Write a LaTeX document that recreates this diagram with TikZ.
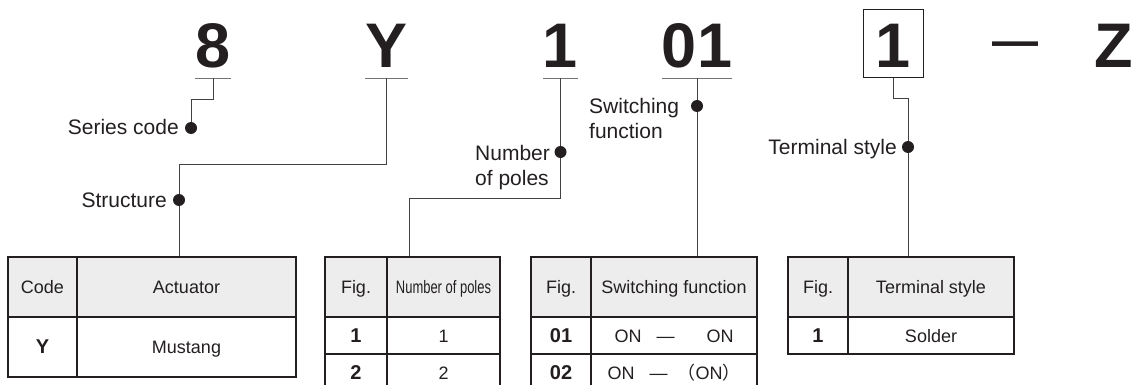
\documentclass[tikz,border=0pt]{standalone}
\usepackage{fontspec}
\setmainfont{Liberation Sans}
\newfontfamily\cjk{Noto Sans CJK JP}
\newfontfamily\narrowfont[FakeStretch=0.72]{Liberation Sans}
\definecolor{ink}{HTML}{231F20}
\definecolor{headgray}{HTML}{EDEDED}

\tikzset{
  code/.style={font=\bfseries\fontsize{63}{63}\selectfont, anchor=base, inner xsep=0pt, inner ysep=10pt, text height=48pt, text depth=0pt},
  uline/.style={draw=black!55, line width=1.2pt},
  lead/.style={draw=ink!85, line width=1pt},
  lbl/.style={font=\fontsize{21}{25}\selectfont, inner sep=0pt},
  cell/.style={draw=ink, line width=1.3pt, inner sep=0pt, text height=13pt, text depth=0pt, font=\fontsize{18}{22}\selectfont},
  head/.style={cell, fill=headgray, minimum height=60pt},
  row/.style={cell, minimum height=37pt},
  fig/.style={font=\bfseries\fontsize{20}{24}\selectfont},
}

\begin{document}
\begin{tikzpicture}[x=1pt, y=-1pt, text=ink]
	\useasboundingbox (0,0) rectangle (1131,385);

	% 品番
	\node[code, minimum width=34pt] (c8) at (213,68) {8};
	\node[code, minimum width=43pt] (cY) at (386.5,68) {Y};
	\node[code, minimum width=33pt] (c1) at (560.5,68) {1};
	\node[code, minimum width=68pt] (c01) at (697,68) {01};
	\node[code, draw=ink, line width=1pt, minimum width=60pt] (cT) at (893,68) {1};
	\node[code, font=\bfseries\fontsize{46}{46}\selectfont] (cDash) at (1015.5,57) {—};
	\node[code, anchor=base west] (cZ) at (1094,68) {Z};

	\draw[uline] (c8.south west) -- (c8.south east);
	\draw[uline] (cY.south west) -- (cY.south east);
	\draw[uline] (c1.south west) -- (c1.south east);
	\draw[uline] (c01.south west) -- (c01.south east);

	% 説明
	\node[lbl, anchor=base east] (lSer) at (179,135) {Series code};
	\node[lbl, anchor=base east] (lSt) at (167,207.5) {Structure};
	\node[lbl, anchor=base west, align=left] (lNum) at (475,185) {Number\\of poles};
	\node[lbl, anchor=base west, align=left] (lSw) at (589,138.5) {Switching\\function};
	\node[lbl, anchor=base east] (lTer) at (897,154.5) {Terminal style};

	% 表1
	\node[head, minimum width=69pt] (t1a) at (42.5,287) {Code};
	\node[head, minimum width=219pt] (t1b) at (186.5,287) {Actuator};
	\node[cell, fig, minimum width=69pt, minimum height=60pt] (t1c) at (42.5,347) {Y};
	\node[cell, minimum width=219pt, minimum height=60pt] (t1d) at (186.5,347) {Mustang};

	% 表2
	\node[head, minimum width=62pt] (t2a) at (356,287) {Fig.};
	\node[head, minimum width=113pt, font=\narrowfont\fontsize{18}{22}\selectfont] (t2b) at (443.5,287) {Number of poles};
	\node[row, fig, minimum width=62pt] (t2c) at (356,335.5) {1};
	\node[row, minimum width=113pt] (t2d) at (443.5,335.5) {1};
	\node[row, fig, minimum width=62pt] (t2e) at (356,372.5) {2};
	\node[row, minimum width=113pt] (t2f) at (443.5,372.5) {2};

	% 表3
	\node[head, minimum width=60pt] (t3a) at (561,287) {Fig.};
	\node[head, minimum width=166pt] (t3b) at (674,287) {Switching function};
	\node[row, fig, minimum width=60pt] (t3c) at (561,335.5) {01};
	\node[row, minimum width=166pt] (t3d) at (674,335.5) {ON\hspace{15pt}—\hspace{32pt}ON\hspace{14pt}};
	\node[row, fig, minimum width=60pt] (t3e) at (561,372.5) {02};
	\node[row, minimum width=166pt] (t3f) at (674,372.5) {ON\hspace{15pt}—\hspace{10pt}{\cjk （}ON{\cjk ）}};

	% 表4
	\node[head, minimum width=60pt] (t4a) at (818,287) {Fig.};
	\node[head, minimum width=166pt] (t4b) at (931,287) {Terminal style};
	\node[row, fig, minimum width=60pt] (t4c) at (818,335.5) {1};
	\node[row, minimum width=166pt] (t4d) at (931,335.5) {Solder};

	% 引出線
	\coordinate (dSer) at (191,128);
	\coordinate (dSt) at (179,200);
	\coordinate (dNum) at (560.5,152);
	\coordinate (dSw) at (697,106);
	\coordinate (dTer) at (908,147);
	\coordinate (kSer) at (191,100);
	\coordinate (kSt) at (179,164);
	\coordinate (kNum) at (409,198);
	\coordinate (kTer) at (908,99);

	\draw[lead] (c8.south) |- (kSer) -- (dSer);
	\draw[lead] (cY.south) |- (kSt) -- (kSt |- t1b.north);
	\draw[lead] (c1.south) |- (kNum) -- (kNum |- t2b.north);
	\draw[lead] (c01.south) -- (c01.south |- t3b.north);
	\draw[lead] (cT.south) |- (kTer) -- (kTer |- t4b.north);

	\fill[ink] (dSer) circle (6);
	\fill[ink] (dSt) circle (6);
	\fill[ink] (dNum) circle (6);
	\fill[ink] (dSw) circle (6);
	\fill[ink] (dTer) circle (6);
\end{tikzpicture}
\end{document}
